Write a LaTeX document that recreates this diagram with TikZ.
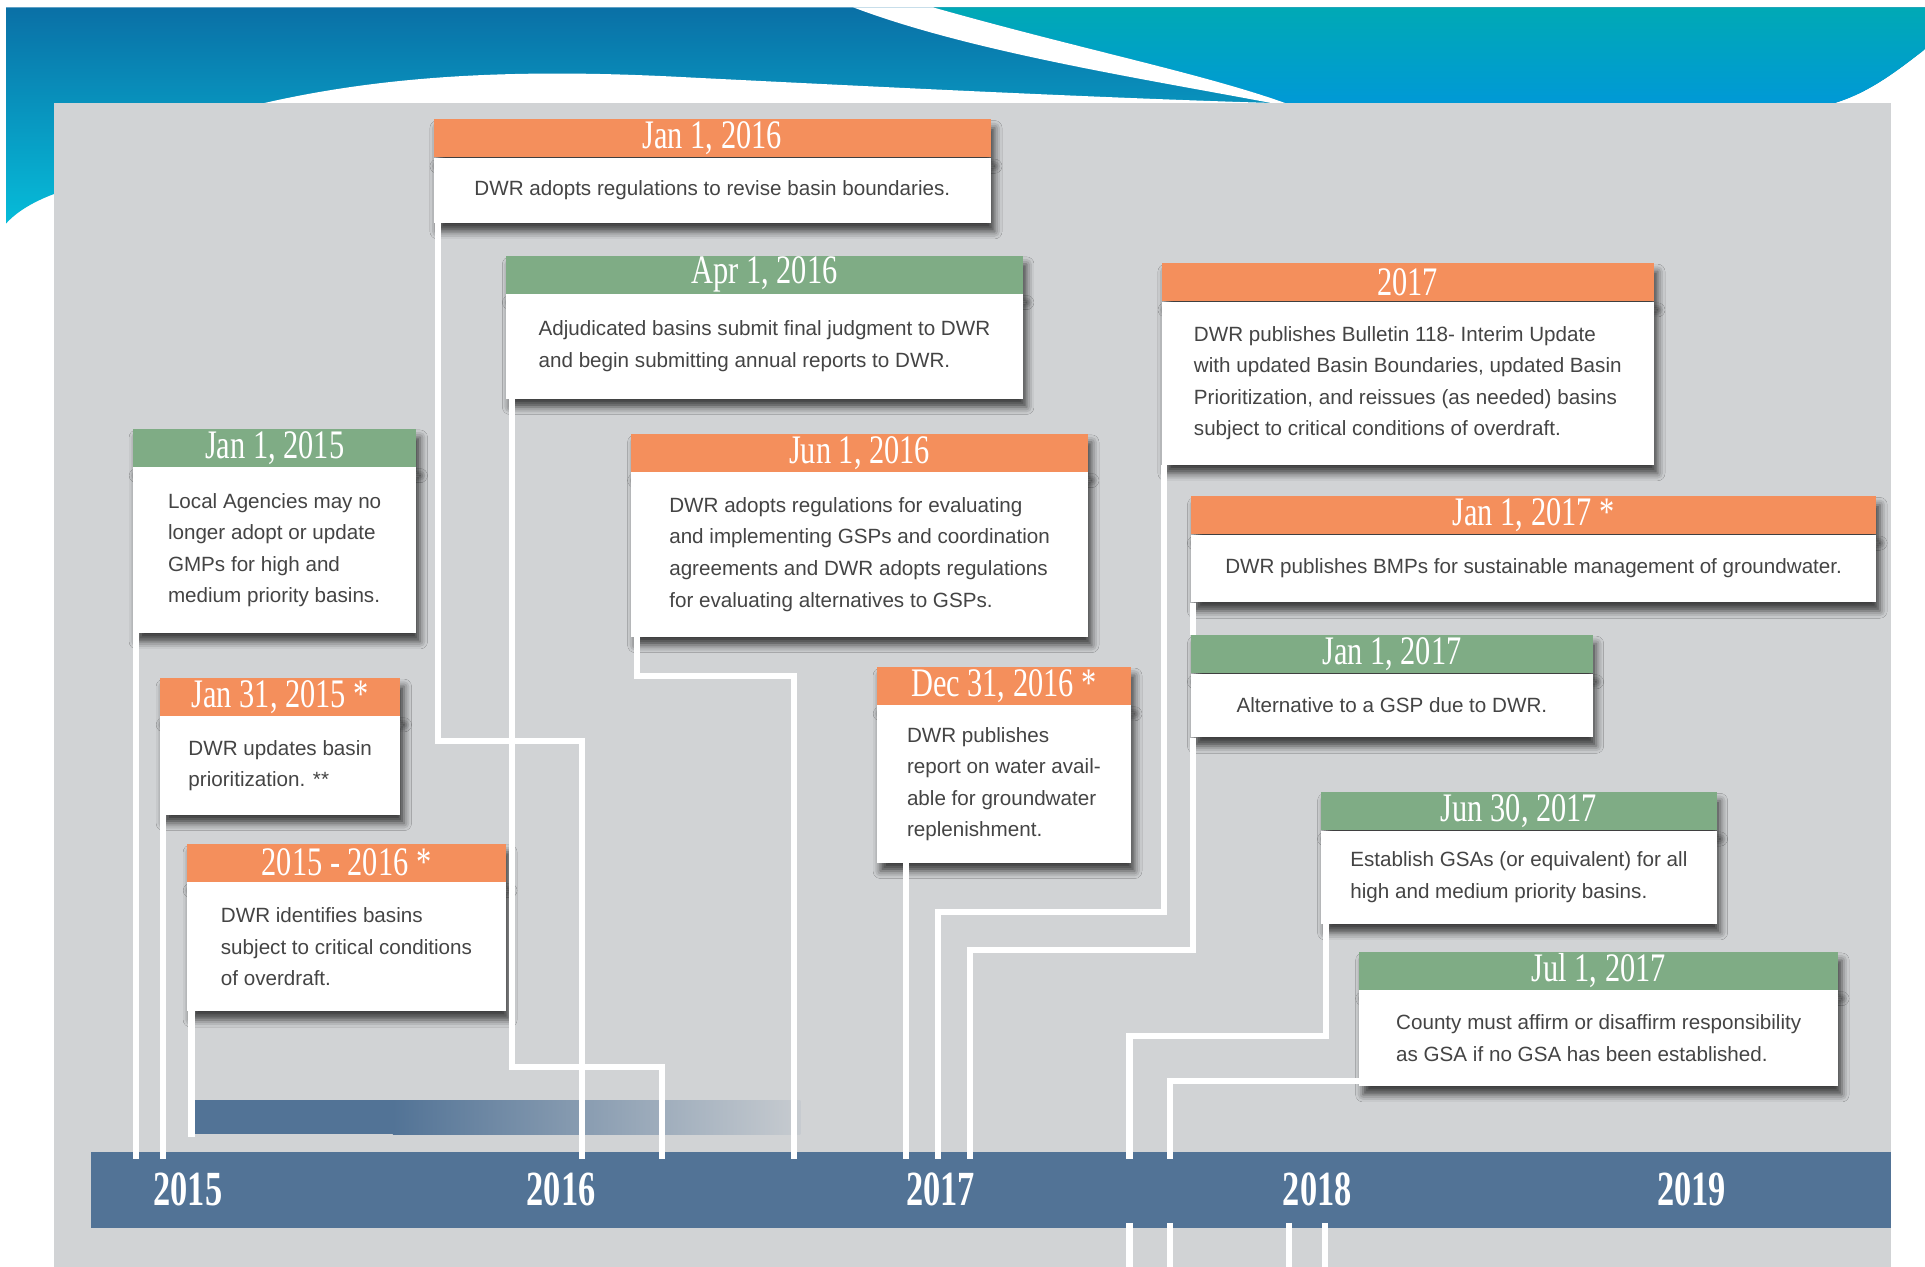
\documentclass[tikz,border=0pt]{standalone}
\usepackage{fontspec}
\setmainfont{Liberation Sans}
\newfontfamily\datefont[FakeStretch=0.75]{Liberation Serif}
\newfontfamily\yearfont[FakeStretch=0.7]{Liberation Serif}
\usetikzlibrary{positioning,shadows.blur}

\definecolor{orng}{HTML}{F48F5C}
\definecolor{grn}{HTML}{7FAC85}
\definecolor{bar}{HTML}{527396}
\definecolor{panel}{HTML}{D1D3D5}
\definecolor{ink}{HTML}{444444}
\definecolor{hdrtop}{HTML}{0A70A6}
\definecolor{hdrbot}{HTML}{06BCD9}
\definecolor{tealtop}{HTML}{00A9B5}
\definecolor{tealbot}{HTML}{0099D6}

\tikzset{
  tag/.style={anchor=north west, minimum height=31pt, inner sep=0pt, text=white,
    font=\datefont\fontsize{33}{33}\selectfont,
    blur shadow={shadow xshift=3pt, shadow yshift=-7pt, shadow blur radius=6pt, shadow opacity=70}},
  card/.style={fill=white, inner xsep=0pt, inner ysep=0pt, align=left, text=ink,
    font=\fontsize{16.8}{25.7}\selectfont,
    blur shadow={shadow xshift=3pt, shadow yshift=-7pt, shadow blur radius=6pt, shadow opacity=70}},
  wire/.style={white, line width=5pt},
  year/.style={text=white, font=\yearfont\bfseries\fontsize{40}{40}\selectfont}
}

\begin{document}
\begin{tikzpicture}[x=1pt, y=-1pt]
    \useasboundingbox (0,0) rectangle (1568,1032);
    % slide banner
    \fill[white] (0,0) rectangle (1568,1032);
    \shade[top color=hdrtop, bottom color=hdrbot] (5,6) -- (1568,6) -- (1568,40) .. controls (1540,62) and (1520,76) .. (1494,84) -- (44,84) -- (44,158) .. controls (28,164) and (14,172) .. (5,182) -- cycle;
    \shade[top color=tealtop, bottom color=tealbot] (760,6) -- (1568,6) -- (1568,40) .. controls (1540,62) and (1520,76) .. (1494,84) -- (1047,84) .. controls (980,60) and (880,40) .. (760,6) -- cycle;
    \fill[white] (695,6) -- (760,6) .. controls (880,40) and (980,60) .. (1047,84) -- (1036,84) .. controls (930,64) and (790,42) .. (695,6) -- cycle;
    \fill[white] (215,84) .. controls (320,60) and (430,56) .. (560,63) .. controls (700,70) and (900,80) .. (1040,84) -- cycle;
    % panel
    \fill[panel] (44,84) rectangle (1540,1032);
    \fill[bar] (158,896) rectangle (320,924);
    \shade[left color=bar, right color=bar!8!panel] (320,896) rectangle (652,924);
    \node[fill=bar, anchor=north west, minimum width=1466pt, minimum height=62pt, inner sep=0pt] (axis) at (74,938) {};

    % 2015
    \node[tag, fill=grn, minimum width=231pt] (j15h) at (108,349) {Jan 1, 2015};
    \node[card, below=0pt of j15h, minimum width=231pt, minimum height=135pt] (j15) {Local Agencies may no\\longer adopt or update\\GMPs for high and\\medium priority basins.};
    \node[tag, fill=orng, minimum width=196pt] (j3115h) at (130,552) {Jan 31, 2015 *};
    \node[card, below=0pt of j3115h, minimum width=196pt, minimum height=80pt] (j3115) {DWR updates basin\\prioritization. **};
    \node[tag, fill=orng, minimum width=260pt] (y1516h) at (152,687) {2015 - 2016 *};
    \node[card, below=0pt of y1516h, minimum width=260pt, minimum height=105pt] (y1516) {DWR identifies basins\\subject to critical conditions\\of overdraft.};
    % 2016
    \node[tag, fill=orng, minimum width=454pt] (j16h) at (353,97) {Jan 1, 2016};
    \node[card, below=0pt of j16h, minimum width=454pt, minimum height=53pt] (j16) {DWR adopts regulations to revise basin boundaries.};
    \node[tag, fill=grn, minimum width=421pt] (a16h) at (412,208) {Apr 1, 2016};
    \node[card, below=0pt of a16h, minimum width=421pt, minimum height=85pt] (a16) {Adjudicated basins submit final judgment to DWR\\and begin submitting annual reports to DWR.};
    \node[tag, fill=orng, minimum width=372pt] (jn16h) at (514,353) {Jun 1, 2016};
    \node[card, below=0pt of jn16h, minimum width=372pt, minimum height=134pt] (jn16) {DWR adopts regulations for evaluating\\and implementing GSPs and coordination\\agreements and DWR adopts regulations\\for evaluating alternatives to GSPs.};
    \node[tag, fill=orng, minimum width=207pt] (d16h) at (714,543) {Dec 31, 2016 *};
    \node[card, below=0pt of d16h, minimum width=207pt, minimum height=128pt] (d16) {DWR publishes\\report on water avail-\\able for groundwater\\replenishment.};
    % 2017
    \node[tag, fill=orng, minimum width=401pt] (y17h) at (946,214) {2017};
    \node[card, below=0pt of y17h, minimum width=401pt, minimum height=133pt] (y17) {DWR publishes Bulletin 118- Interim Update\\with updated Basin Boundaries, updated Basin\\Prioritization, and reissues (as needed) basins\\subject to critical conditions of overdraft.};
    \node[tag, fill=orng, minimum width=558pt] (j17sh) at (970,404) {Jan 1, 2017 *};
    \node[card, below=0pt of j17sh, minimum width=558pt, minimum height=55pt] (j17s) {DWR publishes BMPs for sustainable management of groundwater.};
    \node[tag, fill=grn, minimum width=327pt] (j17h) at (970,517) {Jan 1, 2017};
    \node[card, below=0pt of j17h, minimum width=327pt, minimum height=52pt] (j17) {Alternative to a GSP due to DWR.};
    \node[tag, fill=grn, minimum width=322pt] (jn17h) at (1076,645) {Jun 30, 2017};
    \node[card, below=0pt of jn17h, minimum width=322pt, minimum height=76pt] (jn17) {Establish GSAs (or equivalent) for all\\high and medium priority basins.};
    \node[tag, fill=grn, minimum width=390pt] (jl17h) at (1107,775) {Jul 1, 2017};
    \node[card, below=0pt of jl17h, minimum width=390pt, minimum height=78pt] (jl17) {County must affirm or disaffirm responsibility\\as GSA if no GSA has been established.};

    % ticks on the timeline
    \coordinate (t1) at (111,944);
    \coordinate (t2) at (133,944);
    \coordinate (t3) at (156,926);
    \coordinate (t4) at (474,944);
    \coordinate (t5) at (539,944);
    \coordinate (t6) at (647,944);
    \coordinate (t7) at (738,944);
    \coordinate (t8) at (764,944);
    \coordinate (t9) at (790,944);
    \coordinate (t10) at (920,944);
    \coordinate (t11) at (953,944);

    \draw[wire] ([xshift=3pt]j15.south west) -- (t1);
    \draw[wire] ([xshift=3pt]j3115.south west) -- (t2);
    \draw[wire] ([xshift=4pt]y1516.south west) -- (t3);
    \draw[wire] ([xshift=4pt]j16.south west) -- ++(0,422) -| (t4);
    \draw[wire] ([xshift=5pt]a16.south west) -- ++(0,544) -| (t5);
    \draw[wire] ([xshift=5pt]jn16.south west) -- ++(0,32) -| (t6);
    \draw[wire] ([xshift=24pt]d16.south west) -- (t7);
    \draw[wire] ([xshift=2pt]y17.south west) -- ++(0,364) -| (t8);
    \draw[wire] ([xshift=2pt]j17s.south west) -- ([xshift=2pt]j17h.north west);
    \draw[wire] ([xshift=2pt]j17.south west) -- ++(0,173) -| (t9);
    \draw[wire] ([xshift=4pt]jn17.south west) -- ++(0,91) -| (t10);
    \draw[wire] ([yshift=4pt]jl17.south west) -| (t11);
    \foreach \x in {920,953,1050,1079}
        \draw[wire] (\x,996) -- (\x,1032);

    \foreach \yr/\x in {2015/153,2016/457,2017/766,2018/1073,2019/1378}
        \node[year] (y\yr) at (\x,969) {\yr};
\end{tikzpicture}
\end{document}
